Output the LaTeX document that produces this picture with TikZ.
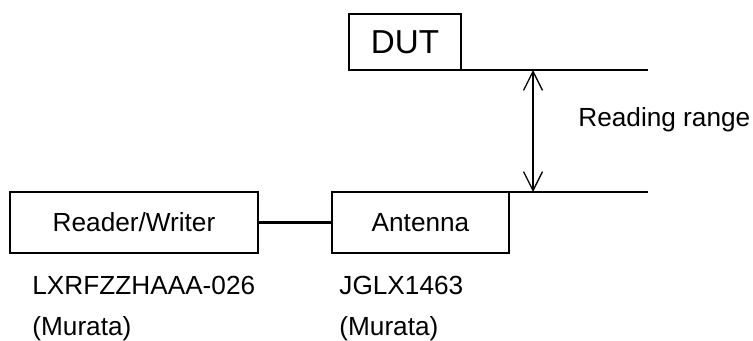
\documentclass[tikz,border=0pt]{standalone}
\usepackage{fontspec}
\setmainfont{Liberation Sans}
\usetikzlibrary{arrows.meta}

\begin{document}
\begin{tikzpicture}[x=0.5pt, y=-0.5pt,
  unit/.style={draw, line width=1.35pt, inner sep=0pt, outer sep=0pt, font=\fontsize{13.1}{15}\selectfont},
  note/.style={anchor=west, inner sep=0pt, font=\fontsize{13.1}{15}\selectfont},
  level/.style={line width=1.35pt}]
\useasboundingbox (0,0) rectangle (753,341);

\node (dut) [unit, minimum width=56pt, minimum height=28pt,
             font=\fontsize{16.6}{19}\selectfont] at (405,42) {DUT};
\node (rw)  [unit, minimum width=124pt, minimum height=30.5pt] at (134,222.5) {Reader/Writer};
\node (ant) [unit, minimum width=88.5pt, minimum height=30.5pt] at (420.5,222.5) {Antenna};

\coordinate (topend) at (648,70);
\coordinate (botend) at (648,192);
\draw[level] (dut.south east) -- (topend);
\draw[level] (ant.north east) -- (botend);
\draw[level] (rw) -- (ant);

\coordinate (rtop) at (533,70);
\coordinate (rbot) at (533,192);
\draw[line width=0.65pt, {Straight Barb[length=9.5pt, width=9.5pt]}-{Straight Barb[length=9.5pt, width=9.5pt]}]
  (rtop) -- (rbot);
\node (range) [note] at (578,120) {Reading range};

\node (rwpart)  [note] at (32,285) {LXRFZZHAAA-026};
\node (rwmaker) [note] at (32,329) {(Murata)};
\node (antpart)  [note] at (339,285) {JGLX1463};
\node (antmaker) [note] at (339,329) {(Murata)};
\end{tikzpicture}
\end{document}
